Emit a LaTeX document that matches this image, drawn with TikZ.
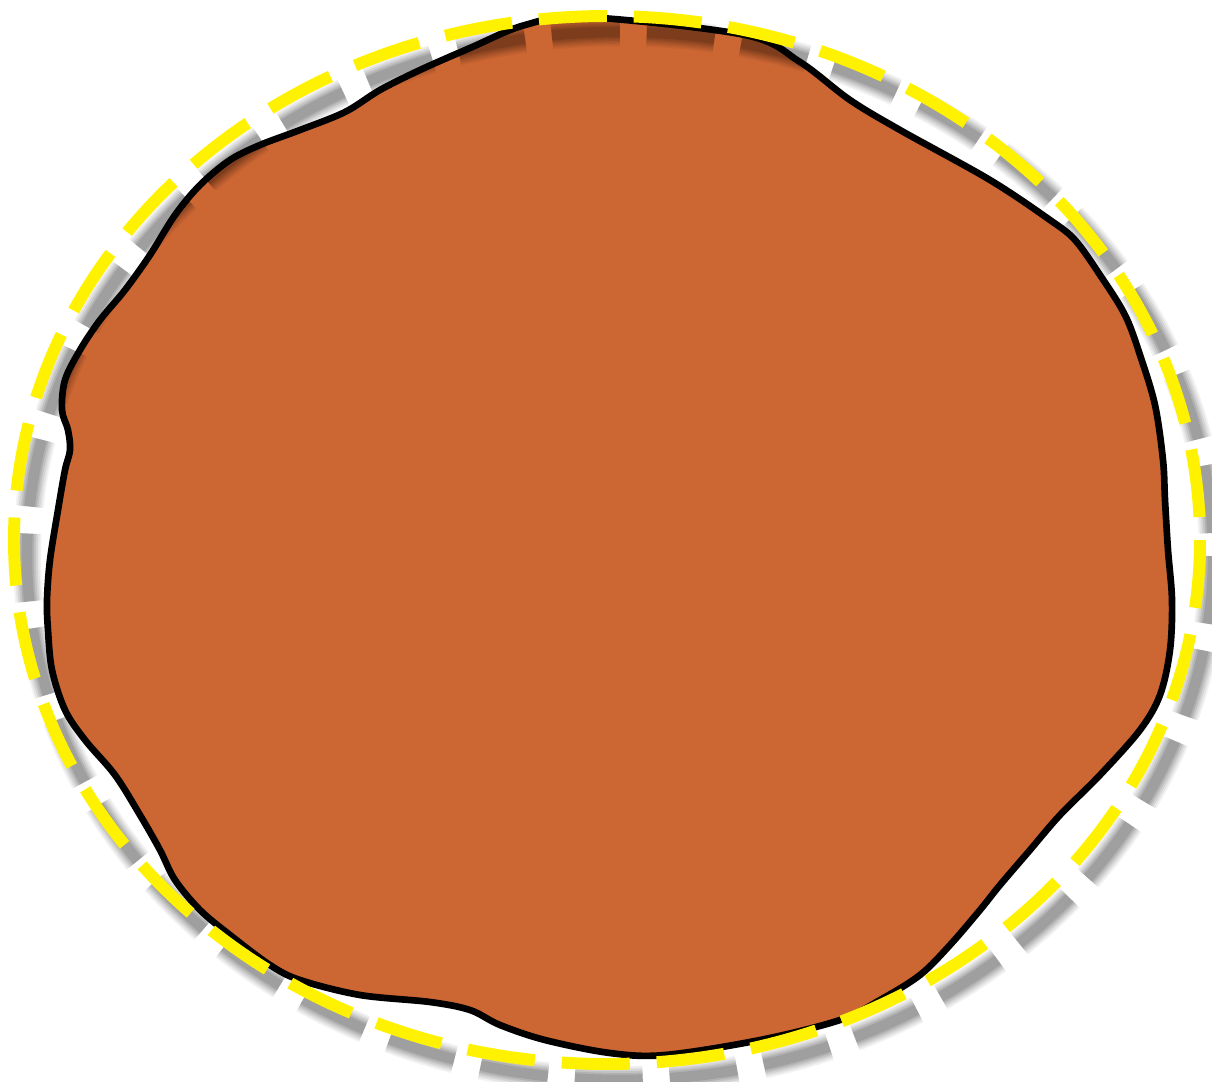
\documentclass[tikz,border=0pt]{standalone}
\usepackage{xcolor}
\usepackage{tikz}
\definecolor{blobfill}{HTML}{CC6633}
\tikzset{
  blob/.style={draw=black, line width=1.9pt, fill=blobfill, line join=round},
  ring/.style={draw=yellow, line width=3.4pt, dash pattern=on 0.68cm off 0.27cm},
  ringshadow/.style={draw=black, dash pattern=on 0.68cm off 0.27cm},
}
\begin{document}
\begin{tikzpicture}[x=0.01cm, y=-0.01cm]
  \useasboundingbox (0,0) rectangle (1212,1081);

  % brown blob
  \draw[blob] plot[smooth cycle, tension=0.55] coordinates {
    (585,17) (745,35) (800,62) (850,100) (900,130) (990,180) (1050,220)
    (1075,240) (1100,275) (1125,315) (1140,355) (1155,405) (1163,460)
    (1165,500) (1168,550) (1172,600) (1170,650) (1160,695) (1140,730)
    (1100,775) (1060,815) (1030,850) (1000,885) (980,910) (950,945)
    (920,975) (880,1000) (840,1020) (760,1040) (665,1055) (610,1053)
    (545,1040) (500,1025) (470,1010) (430,1002) (360,995) (300,980)
    (270,965) (230,935) (200,910) (175,880) (160,850) (140,815)
    (115,775) (85,740) (65,710) (52,670) (48,630) (47,600) (50,560)
    (58,510) (65,470) (70,450) (68,430) (62,410) (65,380) (80,350)
    (100,320) (125,290) (150,255) (175,215) (200,185) (230,160)
    (260,145) (300,130) (345,112) (380,90) (420,70) (470,48) (525,25)
  };

  % blurred shadow of the dashed ring
  \foreach \w/\o in {8pt/0.05, 7pt/0.06, 6pt/0.07, 5pt/0.08, 4pt/0.09, 3pt/0.1} {
    \draw[ringshadow, line width=\w, opacity=\o] (620,556) ellipse [x radius=593, y radius=524];
  }

  % dashed ring
  \draw[ring] (607,540) ellipse [x radius=593, y radius=524];
\end{tikzpicture}
\end{document}
